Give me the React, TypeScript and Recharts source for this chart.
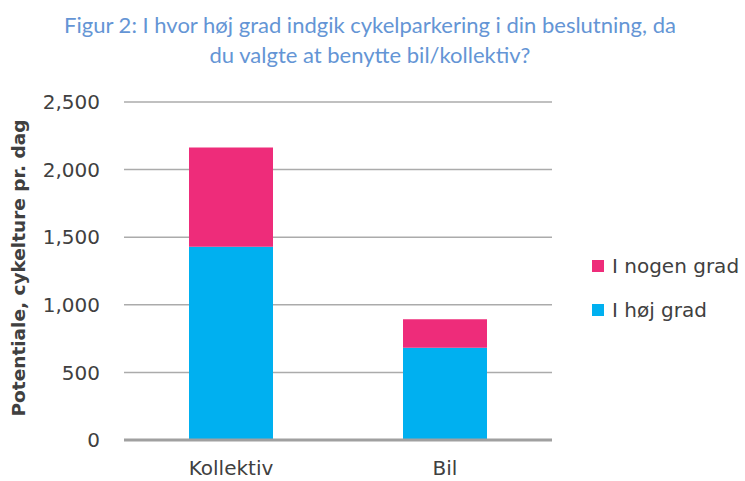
import { BarChart, Bar, XAxis, YAxis, CartesianGrid } from "recharts"

const categories = ["Kollektiv", "Bil"]
const hoejGrad = [1430, 683]
const nogenGrad = [734, 210]
const yTicks = [0, 500, 1000, 1500, 2000, 2500]

const BLUE = "#00b0f0"
const PINK = "#ee2c7a"
const TEXT = "#404040"
const FONT = "'DejaVu Sans', sans-serif"

const data = categories.map((c, i) => ({
  name: c,
  hoej: hoejGrad[i],
  nogen: nogenGrad[i],
}))

const legendItems = [
  { label: "I nogen grad", color: PINK, top: 254 },
  { label: "I høj grad", color: BLUE, top: 298 },
]

export default function App() {
  return (
    <div style={{ position: "absolute", left: 0, top: 0, width: 745, height: 481, background: "#fff" }}>
      <div
        style={{
          position: "absolute",
          left: 0,
          top: 10,
          width: 740,
          textAlign: "center",
          fontFamily: "Lato, sans-serif",
          fontSize: 22,
          lineHeight: "30px",
          color: "#6495d5",
        }}
      >
        Figur 2: I hvor høj grad indgik cykelparkering i din beslutning, da
        <br />
        du valgte at benytte bil/kollektiv?
      </div>
      <div
        style={{
          position: "absolute",
          left: 18,
          top: 268,
          transform: "translate(-50%, -50%) rotate(-90deg)",
          whiteSpace: "nowrap",
          fontFamily: FONT,
          fontWeight: 700,
          fontSize: 18.5,
          color: TEXT,
        }}
      >
        Potentiale, cykelture pr. dag
      </div>
      <BarChart
        width={745}
        height={481}
        data={data}
        margin={{ top: 102, right: 193, bottom: 0, left: 0 }}
        style={{ position: "absolute", left: 0, top: 0 }}
      >
        <CartesianGrid vertical={false} stroke="#ababab" strokeWidth={1.5} />
        <XAxis
          dataKey="name"
          height={41}
          tickLine={false}
          axisLine={{ stroke: "#a0a0a0", strokeWidth: 3 }}
          tick={{ fill: TEXT, fontSize: 20, fontFamily: FONT }}
          tickMargin={15}
        />
        <YAxis
          width={124}
          domain={[0, 2500]}
          ticks={yTicks}
          axisLine={false}
          tickLine={false}
          tickSize={0}
          tickMargin={24}
          tickFormatter={(v: number) => v.toLocaleString("en-US")}
          tick={{ fill: TEXT, fontSize: 20, fontFamily: FONT }}
        />
        <Bar dataKey="hoej" stackId="a" fill={BLUE} barSize={84} isAnimationActive={false} />
        <Bar dataKey="nogen" stackId="a" fill={PINK} barSize={84} isAnimationActive={false} />
      </BarChart>
      {legendItems.map((it) => (
        <div
          key={it.label}
          style={{
            position: "absolute",
            left: 592,
            top: it.top,
            height: 24,
            display: "flex",
            alignItems: "center",
            fontFamily: FONT,
            fontSize: 20,
            color: TEXT,
            whiteSpace: "nowrap",
          }}
        >
          <span style={{ width: 12, height: 12, background: it.color, display: "inline-block", marginRight: 8 }} />
          <span>{it.label}</span>
        </div>
      ))}
    </div>
  )
}
